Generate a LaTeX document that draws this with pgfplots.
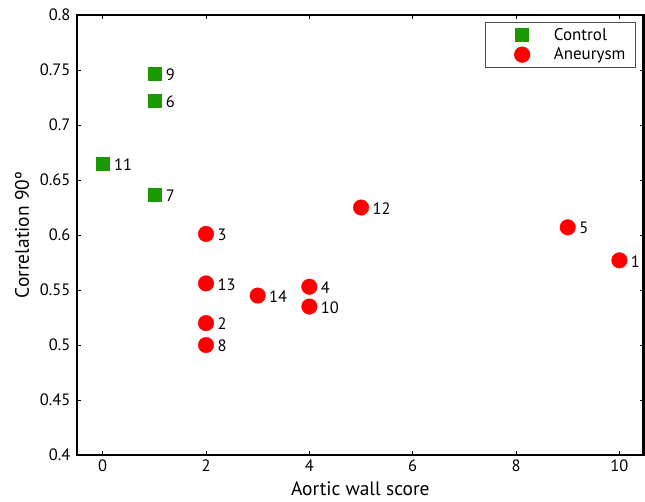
\documentclass[border=0pt]{standalone}
\usepackage{pgfplots}
\pgfplotsset{compat=1.18}
\usepackage{fontspec}
\setmainfont{PT Sans}
\definecolor{mgreen}{RGB}{26,154,0}
\begin{document}
\begin{tikzpicture}
\begin{axis}[
  scale only axis,
  width=568pt, height=441pt,
  xmin=-0.5, xmax=10.47,
  ymin=0.4, ymax=0.8,
  xtick={0,2,4,6,8,10},
  ytick={0.4,0.45,0.5,0.55,0.6,0.65,0.7,0.75,0.8},
  yticklabels={0.4,0.45,0.5,0.55,0.6,0.65,0.7,0.75,0.8},
  xticklabels={0,2,4,6,8,10},
  tick align=inside,
  major tick length=4pt,
  tick style={black, line width=0.6pt},
  axis line style={line width=2.6pt},
  ticklabel style={font=\fontsize{16.5}{18}\selectfont},
  xticklabel style={yshift=-1pt},
  yticklabel style={xshift=-3pt},
  label style={font=\fontsize{19.5}{22}\selectfont},
  xlabel={Aortic wall score},
  ylabel={Correlation 90º},
  xlabel style={yshift=-3pt},
  ylabel style={yshift=4pt},
  /pgf/number format/assume math mode=true,
  clip=false,
  legend style={at={(rel axis cs:0.986,0.984)}, anchor=north east, draw=black!70, line width=0.6pt,
    font=\fontsize{17}{20}\selectfont, inner xsep=4pt, inner ysep=4pt, row sep=2pt,
    column sep=18pt},
  legend cell align=left,
  legend image code/.code={\path (0cm,0cm); \draw[#1] (33pt,0cm) -- plot coordinates {(33pt,0cm)};},
  legend style={nodes={inner xsep=6pt, font=\fontsize{17}{20}\selectfont}},
  nodes near coords,
  point meta=explicit symbolic,
  every node near coord/.append style={anchor=west, xshift=8pt, yshift=-1pt, font=\fontsize{16.5}{18}\selectfont, black},
]
\addplot[only marks, mark=square*, mark size=6.5pt, mgreen, mark options={draw=mgreen, fill=mgreen}] table[meta=lab] {
x y lab
1 0.747 9
1 0.722 6
0 0.665 11
1 0.637 7
};
\addlegendentry{Control}
\addplot[only marks, mark=*, mark size=7.8pt, red, mark options={draw=red, fill=red}] table[meta=lab] {
x y lab
2 0.601 3
2 0.556 13
2 0.520 2
2 0.500 8
3 0.545 14
4 0.553 4
4 0.535 10
5 0.625 12
9 0.607 5
10 0.577 1
};
\addlegendentry{Aneurysm}
\path (rel axis cs:0,0) ++(-77pt,-47pt) coordinate (bbl);
\path (rel axis cs:1,1) ++(0pt,15pt) coordinate (bbr);
\pgfresetboundingbox
\useasboundingbox (bbl) rectangle (bbr);
\end{axis}
\end{tikzpicture}
\end{document}
